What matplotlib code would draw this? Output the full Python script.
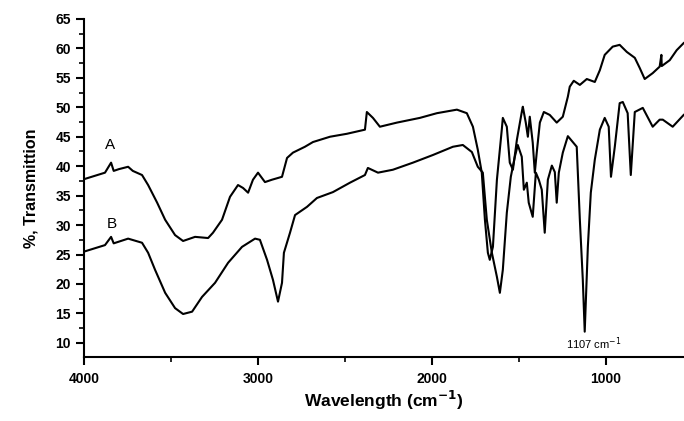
import numpy as np
import matplotlib
matplotlib.use('Agg')
import matplotlib.pyplot as plt
from matplotlib.ticker import MultipleLocator

# spectrum A (upper trace): wavenumber, %T
wn_a = [4000, 3880, 3845, 3830, 3800, 3747, 3720, 3667, 3632, 3580, 3534, 3477,
        3431, 3362, 3287, 3259, 3207, 3161, 3115, 3086, 3057, 3029, 3000, 2960,
        2920, 2885, 2862, 2833, 2799, 2730, 2684, 2586, 2489, 2385, 2374, 2339,
        2299, 2201, 2069, 1971, 1856, 1799, 1764, 1736, 1713, 1695, 1678, 1667,
        1649, 1626, 1598, 1592, 1569, 1552, 1534, 1511, 1483, 1477, 1460, 1448,
        1437, 1420, 1408, 1397, 1379, 1356, 1322, 1282, 1247, 1218, 1207, 1184,
        1149, 1109, 1063, 1034, 1006, 960, 920, 879, 833, 805, 776, 730, 690,
        680, 678, 632, 592, 552]
t_a = [37.8, 38.9, 40.6, 39.2, 39.5, 39.9, 39.2, 38.5, 36.8, 33.8, 30.9, 28.3,
       27.3, 28.0, 27.8, 28.7, 30.9, 34.8, 36.8, 36.3, 35.5, 37.7, 38.9, 37.3,
       37.7, 38.0, 38.2, 41.4, 42.3, 43.3, 44.1, 45.0, 45.5, 46.2, 49.2, 48.2,
       46.7, 47.4, 48.2, 49.0, 49.6, 49.0, 46.7, 42.8, 38.9, 30.9, 25.3, 24.1,
       26.3, 37.7, 46.2, 48.2, 46.7, 40.6, 39.4, 44.5, 49.2, 50.1, 47.4, 45.0,
       48.4, 44.0, 38.9, 42.3, 47.4, 49.2, 48.7, 47.4, 48.4, 51.8, 53.5, 54.5,
       53.8, 54.8, 54.3, 56.3, 58.9, 60.3, 60.6, 59.4, 58.4, 56.7, 54.8, 55.8,
       56.9, 58.9, 57.0, 58.0, 59.7, 60.9]

# spectrum B (lower trace)
wn_b = [4000, 3880, 3845, 3830, 3747, 3667, 3632, 3592, 3534, 3477, 3431, 3379,
        3322, 3247, 3172, 3092, 3017, 2989, 2948, 2914, 2885, 2862, 2851, 2816,
        2787, 2718, 2661, 2569, 2471, 2385, 2368, 2310, 2224, 2109, 1994, 1879,
        1822, 1770, 1736, 1707, 1684, 1655, 1626, 1609, 1592, 1569, 1546, 1523,
        1506, 1483, 1471, 1454, 1443, 1420, 1402, 1385, 1368, 1351, 1333, 1310,
        1293, 1282, 1270, 1247, 1218, 1167, 1149, 1132, 1121, 1103, 1086, 1063,
        1034, 1006, 983, 970, 948, 920, 902, 874, 856, 833, 787, 730, 690, 672,
        615, 552]
t_b = [25.5, 26.6, 28.0, 26.9, 27.7, 27.0, 25.3, 22.4, 18.5, 15.9, 14.9, 15.3,
       17.8, 20.2, 23.6, 26.3, 27.7, 27.5, 24.1, 20.7, 17.0, 20.2, 25.3, 28.7,
       31.7, 33.1, 34.6, 35.6, 37.2, 38.5, 39.7, 38.9, 39.4, 40.6, 41.9, 43.3,
       43.6, 42.4, 39.9, 38.9, 30.9, 25.3, 21.2, 18.5, 22.4, 32.1, 38.2, 41.6,
       43.6, 41.6, 36.0, 37.2, 33.8, 31.4, 38.9, 37.7, 36.0, 28.7, 37.7, 40.1,
       39.0, 33.8, 38.9, 42.3, 45.1, 43.3, 30.9, 20.7, 11.9, 26.3, 35.5, 41.1,
       46.2, 48.2, 46.7, 38.2, 43.3, 50.7, 50.9, 49.0, 38.5, 49.2, 49.9, 46.7,
       47.9, 47.9, 46.7, 48.7]

plt.rcParams['font.family'] = ['Liberation Sans', 'DejaVu Sans']

fig = plt.figure(figsize=(6.84, 4.21), dpi=100)
ax = fig.add_axes([0.123, 0.152, 0.877, 0.803])

ax.plot(wn_a, t_a, color='black', lw=1.5)
ax.plot(wn_b, t_b, color='black', lw=1.5)

ax.text(3851, 43.6, 'A', fontsize=11, ha='center', va='center')
ax.text(3839, 30.2, 'B', fontsize=11, ha='center', va='center')
ax.text(1069, 9.8, '1107 cm$^{-1}$', fontsize=8, ha='center', va='center')

ax.set_xlim(4000, 550)
ax.set_ylim(7.6, 65)
ax.xaxis.set_major_locator(MultipleLocator(1000))
ax.xaxis.set_minor_locator(MultipleLocator(500))
ax.yaxis.set_major_locator(MultipleLocator(5))
ax.yaxis.set_minor_locator(MultipleLocator(2.5))

for s in ['top', 'right']:
    ax.spines[s].set_visible(False)
for s in ['left', 'bottom']:
    ax.spines[s].set_linewidth(1.5)

ax.tick_params(which='major', length=6, width=1.5, labelsize=10)
ax.tick_params(axis='x', which='major', pad=5)
ax.tick_params(which='minor', length=3.5, width=1.2)
for lab in ax.get_xticklabels() + ax.get_yticklabels():
    lab.set_fontweight('bold')

ax.set_xlabel('Wavelength (cm$^{\\mathbf{-1}}$)', fontsize=12.5, fontweight='bold', labelpad=2)
ax.set_ylabel('%, Transmittion', fontsize=11.5, fontweight='bold', labelpad=12)

fig.savefig('out.png', dpi=100)
